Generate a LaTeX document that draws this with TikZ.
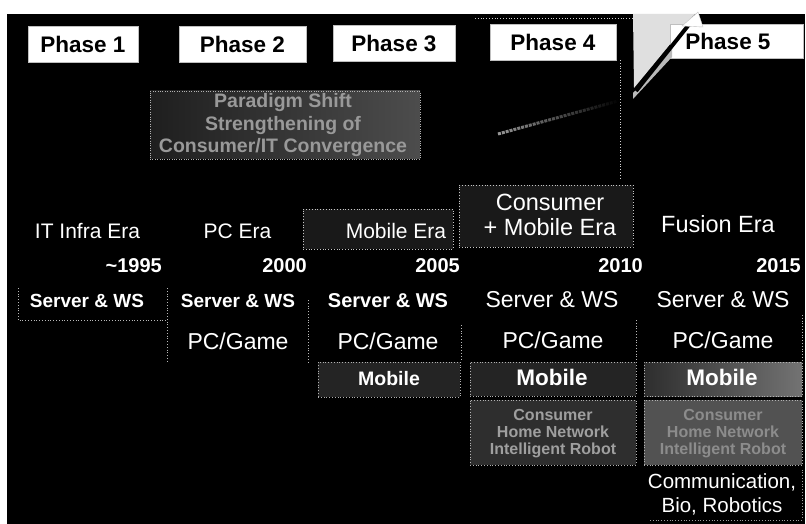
\documentclass[tikz,border=0pt]{standalone}
\usepackage{fontspec}
\setmainfont{Liberation Sans}
\usetikzlibrary{arrows.meta,fadings}
\newcommand{\myfs}[2]{\fontsize{#1}{#2}\selectfont}
\tikzset{
  phasebox/.style={fill=white, draw=gray!50, inner sep=0pt, text=black, font=\myfs{22.5}{27}\bfseries},
  wtxt/.style={text=white, inner sep=0pt, anchor=base},
  eratxt/.style={wtxt, font=\myfs{21}{25}},
  bigera/.style={wtxt, font=\myfs{23.5}{28}},
  yeartxt/.style={text=white, inner sep=0pt, anchor=base east, font=\myfs{20}{24}\bfseries},
  srvsmall/.style={wtxt, font=\myfs{19}{23}\bfseries},
  srvbig/.style={wtxt, font=\myfs{23}{27}},
  pcgame/.style={wtxt, font=\myfs{23}{27}},
  mobtxt/.style={wtxt, font=\myfs{22.5}{27}\bfseries},
  cell/.style={draw=gray!55, dotted, line width=0.8pt},
  graybox/.style={draw=gray!60, dotted, line width=0.8pt},
  boxtxt/.style={inner sep=0pt, anchor=base, text=gray!75, font=\myfs{16}{18}\bfseries},
  partxt/.style={inner sep=0pt, anchor=base, text=gray!80, font=\myfs{19.5}{22}\bfseries}
}
\begin{document}
\begin{tikzpicture}[x=1pt,y=-1pt]
\useasboundingbox (0,0) rectangle (806,524);
\fill[white] (0,0) rectangle (806,524);
\fill[black] (7,14) rectangle (805,524);

% faint column lines
\draw[cell, draw=gray!40] (475,18) -- (633,18);
\draw[cell, draw=gray!35] (620,60) -- (620,180);

% Phase header boxes
\node[phasebox, minimum width=110pt, minimum height=36pt] (p1) at (83,44) {Phase 1};
\node[phasebox, minimum width=127pt, minimum height=36pt] (p2) at (242.5,44) {Phase 2};
\node[phasebox, minimum width=122pt, minimum height=36pt] (p3) at (394,43) {Phase 3};
\node[phasebox, minimum width=126pt, minimum height=36pt] (p4) at (553,42) {Phase 4};

% Phase 5 with big arrow
\fill[gray!25] (633,14) -- (695,14) -- (634,88) -- cycle;
\node[fill=white, draw=gray!50, inner sep=0pt, minimum width=133pt, minimum height=34pt] (p5box) at (736.5,41) {};
\fill[gray!55] (633,99) -- (633,93) -- (672,49) -- (672,57) -- cycle;
\draw[black, line width=4pt] (636,91) -- (695,17);
\fill[white, draw=gray!50] (682,26) -- (698,12) -- (703,27) -- cycle;
\draw[black, line width=2pt] (708,19) -- (720,16);
\node[inner sep=0pt, text=black, font=\myfs{22.5}{27}\bfseries] (p5) at (728,41) {Phase 5};

% Paradigm shift box
\node[left color=black!88!white, right color=black!70!white, draw=gray!60, dotted, inner sep=0pt,
      minimum width=270pt, minimum height=68pt] (para) at (285,125) {};
\node[partxt] (para1) at (283,108) {Paradigm Shift};
\node[partxt] (para2) at (283,131) {Strengthening of};
\node[partxt] (para3) at (283,153) {Consumer/IT Convergence};
\coordinate (parastart) at (498,134);
\coordinate (paraend) at (618,101);
\draw[gray!80, line width=3pt, path fading=east, dash pattern=on 3pt off 1pt] (parastart) -- (paraend);

% Era backgrounds
\node[fill=black!90!white, graybox, draw=gray!45, inner sep=0pt, minimum width=150pt, minimum height=40pt] (mobbg) at (378,229) {};
\node[fill=black!90!white, graybox, draw=gray!45, inner sep=0pt, minimum width=174pt, minimum height=62pt] (cmbg) at (546,216) {};

% Era labels
\node[eratxt] (e1) at (87.5,238) {IT Infra Era};
\node[eratxt] (e2) at (237.5,238) {PC Era};
\node[eratxt] (e3) at (396,238) {Mobile Era};
\node[bigera] (e4a) at (550,210) {Consumer};
\node[bigera] (e4b) at (550,235) {+ Mobile Era};
\node[bigera] (e5) at (718,232) {Fusion Era};

% Years
\node[yeartxt] (y1) at (162,272) {\textasciitilde 1995};
\node[yeartxt] (y2) at (307,272) {2000};
\node[yeartxt] (y3) at (460,272) {2005};
\node[yeartxt] (y4) at (643,272) {2010};
\node[yeartxt] (y5) at (801,272) {2015};

% faint cell lines
\draw[cell] (18,288) -- (18,320) -- (167,320);
\draw[cell] (167,288) -- (167,362);
\draw[cell] (308,300) -- (308,362);
\draw[cell] (461,325) -- (461,360);
\draw[cell] (636,320) -- (636,360);
\draw[cell] (802,315) -- (802,360);

% Server & WS
\node[srvsmall] (s1) at (87,307) {Server \& WS};
\node[srvsmall] (s2) at (238,307) {Server \& WS};
\node[srvsmall, font=\myfs{20}{24}\bfseries] (s3) at (388,307) {Server \& WS};
\node[srvbig] (s4) at (552,307) {Server \& WS};
\node[srvbig] (s5) at (723,307) {Server \& WS};

% PC/Game
\node[pcgame] (g2) at (238,349) {PC/Game};
\node[pcgame] (g3) at (388,349) {PC/Game};
\node[pcgame] (g4) at (553,348) {PC/Game};
\node[pcgame] (g5) at (723,348) {PC/Game};

% Mobile boxes
\node[fill=black!86!white, graybox, inner sep=0pt, minimum width=142pt, minimum height=35pt] (m3box) at (389,379.5) {};
\node[fill=black!86!white, graybox, inner sep=0pt, minimum width=166pt, minimum height=34pt] (m4box) at (553,379) {};
\node[left color=black!82!white, right color=black!55!white, graybox, inner sep=0pt, minimum width=158pt, minimum height=34pt] (m5box) at (723,379) {};
\node[mobtxt, font=\myfs{19.5}{23}\bfseries] (m3) at (389,385) {Mobile};
\node[mobtxt] (m4) at (552,385) {Mobile};
\node[mobtxt] (m5) at (722,385) {Mobile};

% Consumer / Home Network boxes
\node[fill=black!82!white, graybox, inner sep=0pt, minimum width=166pt, minimum height=65pt] (c4box) at (553,432.5) {};
\node[fill=black!68!white, graybox, inner sep=0pt, minimum width=158pt, minimum height=65pt] (c5box) at (723,432.5) {};
\node[boxtxt] (c4a) at (553,420) {Consumer};
\node[boxtxt] (c4b) at (553,437) {Home Network};
\node[boxtxt] (c4c) at (553,454) {Intelligent Robot};
\node[boxtxt, text=gray!90] (c5a) at (723,420) {Consumer};
\node[boxtxt, text=gray!90] (c5b) at (723,437) {Home Network};
\node[boxtxt, text=gray!90] (c5c) at (723,454) {Intelligent Robot};

% Communication, Bio, Robotics
\node[wtxt, font=\myfs{20.5}{24}] (cb1) at (722,488) {Communication,};
\node[wtxt, font=\myfs{20.5}{24}] (cb2) at (722,512) {Bio, Robotics};
\draw[cell, draw=gray!75] (650,520) -- (802,520) -- (802,470);
\end{tikzpicture}
\end{document}
